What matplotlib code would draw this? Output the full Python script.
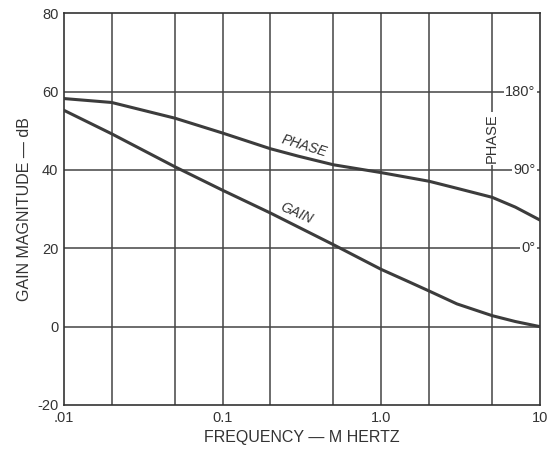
import matplotlib.pyplot as plt
from matplotlib.ticker import FixedLocator, NullLocator

# values (phase curve in dB-axis units: 180 deg = 60, 90 deg = 40, 0 deg = 20)
freq = [0.01, 0.02, 0.05, 0.1, 0.2, 0.5, 1.0, 1.5, 2.0, 3.0, 5.0, 7.0, 10.0]
gain = [55.2, 49.2, 40.8, 34.8, 29.0, 20.9, 14.6, 11.4, 9.1, 5.8, 2.8, 1.3, 0.0]
phase_freq = [0.01, 0.02, 0.05, 0.1, 0.2, 0.3, 0.5, 1.0, 2.0, 3.0, 5.0, 7.0, 10.0]
phase = [58.2, 57.2, 53.2, 49.4, 45.4, 43.5, 41.3, 39.3, 37.1, 35.3, 33.0, 30.5, 27.2]

xticks = [0.01, 0.1, 1.0, 10]
xtick_labels = ['.01', '0.1', '1.0', '10']
yticks = [-20, 0, 20, 40, 60, 80]
xgrid = [0.02, 0.05, 0.1, 0.2, 0.5, 1, 2, 5]
phase_ticks = [60, 40, 20]
phase_labels = ['180°', '90°', '0°']

plt.rcParams['font.family'] = ['Liberation Sans', 'DejaVu Sans']
plt.rcParams['axes.unicode_minus'] = False
ink = '#333333'
curve = '#3c3c3c'

fig = plt.figure(figsize=(5.56, 4.53), dpi=100)
ax = fig.add_axes([0.115, 0.106, 0.856, 0.865])

ax.set_xscale('log')
ax.set_xlim(0.01, 10)
ax.set_ylim(-20, 80)

for xv in xgrid:
    ax.axvline(xv, color='#444444', lw=1.1, zorder=1)
for yv in [0, 20, 40, 60]:
    ax.axhline(yv, color='#444444', lw=1.1, zorder=1)

ax.plot(freq, gain, color=curve, lw=2.2, zorder=3, solid_joinstyle='round')
ax.plot(phase_freq, phase, color=curve, lw=2.2, zorder=3, solid_joinstyle='round')

ax.text(0.325, 46.2, 'PHASE', style='italic', fontsize=10, color=ink,
        rotation=-17, ha='center', va='center', rotation_mode='anchor', zorder=4)
ax.text(0.29, 29.0, 'GAIN', style='italic', fontsize=10, color=ink,
        rotation=-24, ha='center', va='center', rotation_mode='anchor', zorder=4)

# phase scale drawn inside the plot on the right
for yv, lab in zip(phase_ticks, phase_labels):
    ax.text(9.4, yv, lab, fontsize=10.5, color=ink, ha='right', va='center',
            bbox=dict(facecolor='white', edgecolor='none', pad=1.0), zorder=5)
ax.text(5.0, 48, 'PHASE', fontsize=10.5, color=ink, rotation=90,
        ha='center', va='center',
        bbox=dict(facecolor='white', edgecolor='none', pad=1.0), zorder=5)

ax.xaxis.set_major_locator(FixedLocator(xticks))
ax.set_xticklabels(xtick_labels)
ax.xaxis.set_minor_locator(NullLocator())
ax.set_yticks(yticks)
ax.tick_params(length=0, labelsize=10.5, colors=ink, pad=4)

for s in ax.spines.values():
    s.set_color(ink)
    s.set_linewidth(1.2)

ax.set_xlabel('FREQUENCY — M HERTZ', fontsize=11.5, color=ink, labelpad=4)
ax.set_ylabel('GAIN MAGNITUDE — dB', fontsize=11.5, color=ink, labelpad=4)

fig.savefig('out.png', dpi=100, facecolor='white')
